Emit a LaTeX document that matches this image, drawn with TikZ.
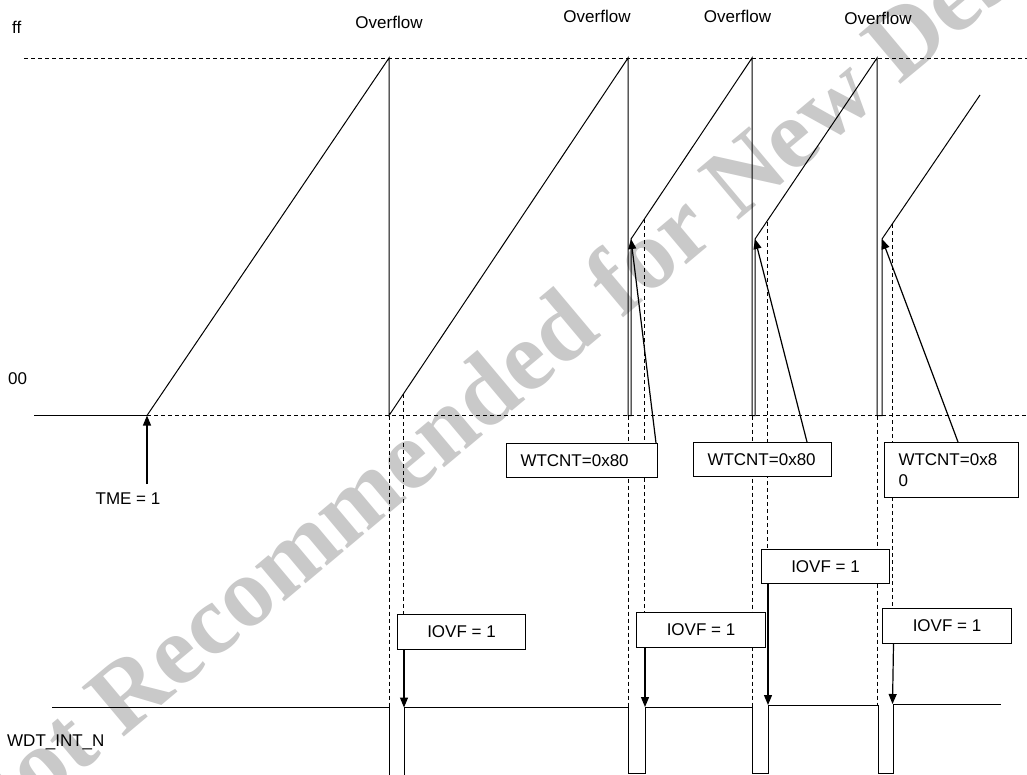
\documentclass[tikz,border=0pt]{standalone}
\usepackage{fontspec}
\setmainfont{Liberation Sans}
\newfontfamily\wmfont{Liberation Serif}
\usetikzlibrary{arrows.meta}
\begin{document}
\begin{tikzpicture}[x=1pt,y=-1pt,
  txt/.style={font=\fontsize{17}{21.5}\selectfont, inner sep=0pt},
  sig/.style={line width=1pt, line join=miter},
  dsh/.style={line width=0.9pt, dash pattern=on 4pt off 3pt},
  arr/.style={line width=1.2pt, -{Triangle[length=10pt,width=8pt]}},
  iovfbox/.style={draw, fill=white, line width=1pt, minimum width=128pt, minimum height=35pt, inner sep=0pt, anchor=north west, font=\fontsize{17}{21.5}\selectfont},
  wtcbox/.style={draw, fill=white, line width=1pt, inner xsep=14pt, inner ysep=0pt, minimum height=34pt, anchor=north west, align=left, font=\fontsize{17}{21.5}\selectfont},
  wmark/.style={font=\wmfont\bfseries\fontsize{99}{99}\selectfont, text=gray!42, inner sep=0pt}]
\useasboundingbox (0,0) rectangle (1027,774);
\begin{scope}
\clip (0,0) rectangle (1027,774);
\fill[white] (0,0) rectangle (1027,774);
% watermark
\node[wmark, rotate=40, anchor=base west] (wm) at (-15,853) {Not Recommended for New Design};

% labels
\node[txt, anchor=west] (lff) at (12,27) {ff};
\node[txt, anchor=west] (l00) at (8,379) {00};
\node[txt, anchor=west] (lwdt) at (7,742) {WDT\_INT\_N};
\node[txt] (ov1) at (389,22) {Overflow};
\node[txt] (ov2) at (597,16) {Overflow};
\node[txt] (ov3) at (737.5,16) {Overflow};
\node[txt] (ov4) at (878,18) {Overflow};
\node[txt] (tme) at (128,499) {TME = 1};

% reference levels
\draw[dsh] (24,58) -- (1027,58);
\draw[sig] (34,415.5) -- (147,415.5);
\draw[dsh] (147,415.5) -- (1027,415.5);

% counter waveform
\coordinate (r2) at (631,239);
\coordinate (r3) at (755,239);
\coordinate (r4) at (882,239);
\draw[sig] (147,415.5) -- (389,58) -- (389,415.5) -- (628,58) -- (628,415.5) -- (631,415.5) -- (r2)
  -- (752,58) -- (752,415.5) -- (755,415.5) -- (r3)
  -- (877,58) -- (877,415.5) -- (882,415.5) -- (r4) -- (980,95);

% dashed guides
\draw[dsh] (389,415.5) -- (389,707.5);
\draw[dsh] (403.5,394) -- (403.5,614);
\draw[dsh] (628,415.5) -- (628,707.5);
\draw[dsh] (644.5,219) -- (644.5,612);
\draw[dsh] (752.5,415.5) -- (752.5,707);
\draw[dsh] (767,222) -- (767,549);
\draw[dsh] (877.5,415.5) -- (877.5,705);
\draw[dsh] (892.5,224) -- (892.5,608);

% WDT_INT_N waveform
\draw[sig] (52,707.5) -- (389,707.5) -- (389,776);
\draw[sig] (404,776) -- (404,707.5) -- (628.5,707.5) -- (628.5,773) -- (645,773) -- (645,707)
  -- (752.5,707) -- (752.5,773) -- (768,773) -- (768,705) -- (878.5,705) -- (878.5,773)
  -- (893,773) -- (893,704) -- (1001,704);

% boxes
\node[wtcbox, text width=123pt] (wt1) at (506,443) {WTCNT=0x80};
\node[wtcbox, text width=110pt] (wt2) at (693,442) {WTCNT=0x80};
\node[wtcbox, text width=106pt, minimum height=55pt] (wt3) at (884,442) {WTCNT=0x8\\0};
\node[iovfbox] (ioA) at (397,614) {IOVF = 1};
\node[iovfbox, minimum width=129pt] (ioB) at (636,612) {IOVF = 1};
\node[iovfbox, minimum height=34pt] (ioC) at (761,549) {IOVF = 1};
\node[iovfbox, minimum width=129pt] (ioD) at (882,608) {IOVF = 1};

% arrows
\coordinate (tmeTip) at (147,415.5);
\coordinate (tmeTail) at (147,484);
\draw[arr] (tmeTail) -- (tmeTip);
\draw[arr] ([xshift=-2pt]wt1.north east) -- (r2);
\draw[arr] ([xshift=-25pt]wt2.north east) -- (r3);
\draw[arr] ([xshift=-61pt]wt3.north east) -- (r4);
\coordinate (pA) at (404,707.5);
\coordinate (pB) at (645,707);
\coordinate (pC) at (768,705);
\coordinate (pD) at (892.5,704);
\draw[arr] ([xshift=7pt]ioA.south west) -- (pA);
\draw[arr] ([xshift=9pt]ioB.south west) -- (pB);
\draw[arr] ([xshift=7pt]ioC.south west) -- (pC);
\draw[arr] ([xshift=11.5pt]ioD.south west) -- (pD);
\end{scope}
\end{tikzpicture}
\end{document}
